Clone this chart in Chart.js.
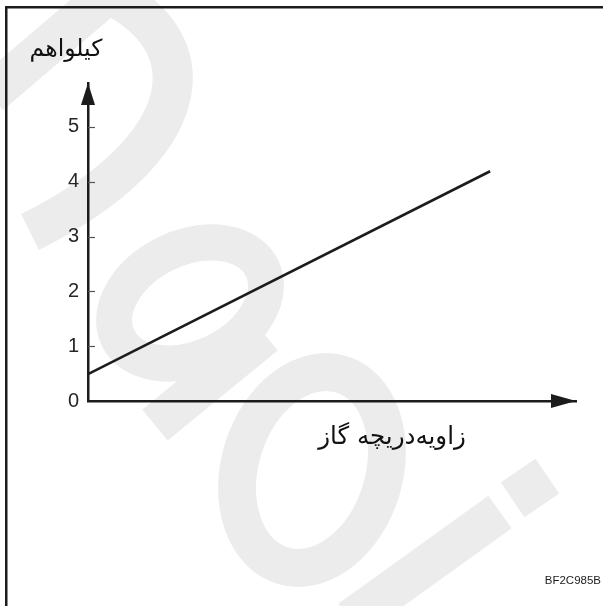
<!DOCTYPE html>
<html>
<head>
<meta charset="utf-8">
<script src="https://cdn.jsdelivr.net/npm/chart.js@4.4.1/dist/chart.umd.min.js"></script>
<style>
  html, body { margin: 0; padding: 0; background: #fff; }
  #chart { display: block; }
</style>
</head>
<body>
<canvas id="chart" width="603" height="606"></canvas>
<script>
// values (x axis has no scale, 0..100 = full axis length)
const throttleAngle = [0, 82.4];
const kwh = [0.49, 4.19];
const yTickValues = [0, 1, 2, 3, 4, 5];

const yTitle = 'کیلواهم';
const xTitle = 'زاویه‌دریچه گاز';
const figCode = 'BF2C985B';

const ink = '#1c1c1c';

// white page + faint grey watermark behind everything
const backdrop = {
    id: 'backdrop',
    beforeDraw(chart) {
        const ctx = chart.ctx;
        ctx.save();
        ctx.fillStyle = '#fff';
        ctx.fillRect(0, 0, chart.width, chart.height);

        ctx.strokeStyle = '#ececec';
        ctx.fillStyle = '#ececec';
        ctx.lineWidth = 40;

        ctx.beginPath();
        ctx.moveTo(-10, 95);
        ctx.lineTo(115, -12);
        ctx.stroke();

        ctx.beginPath();
        ctx.moveTo(100, -10);
        ctx.bezierCurveTo(215, 40, 195, 150, 30, 232);
        ctx.stroke();

        ctx.lineWidth = 36;
        ctx.beginPath();
        ctx.ellipse(190, 303, 80, 55, -0.45, 0, Math.PI * 2);
        ctx.stroke();

        ctx.lineWidth = 40;
        ctx.beginPath();
        ctx.moveTo(155, 425);
        ctx.lineTo(265, 335);
        ctx.stroke();

        ctx.lineWidth = 38;
        ctx.beginPath();
        ctx.ellipse(312, 470, 72, 100, 0.3, 0, Math.PI * 2);
        ctx.stroke();

        ctx.lineWidth = 40;
        ctx.beginPath();
        ctx.moveTo(350, 620);
        ctx.lineTo(500, 512);
        ctx.stroke();

        ctx.translate(530, 488);
        ctx.rotate(-0.6);
        ctx.fillRect(-21, -21, 42, 42);
        ctx.restore();
    }
};

// frame, arrow heads, inward tick marks and the texts
const decorations = {
    id: 'decorations',
    afterDraw(chart) {
        const ctx = chart.ctx;
        const area = chart.chartArea;
        const yScale = chart.scales.y;
        ctx.save();

        // frame (only top and left edges are in the crop)
        ctx.strokeStyle = ink;
        ctx.lineWidth = 2.5;
        ctx.beginPath();
        ctx.moveTo(6.25, chart.height);
        ctx.lineTo(6.25, 7.25);
        ctx.lineTo(chart.width, 7.25);
        ctx.stroke();

        // small ticks pointing into the plot
        ctx.strokeStyle = '#555';
        ctx.lineWidth = 1.2;
        yTickValues.filter(v => v > 0).forEach(v => {
            const py = Math.round(yScale.getPixelForValue(v)) + 0.5;
            ctx.beginPath();
            ctx.moveTo(area.left, py);
            ctx.lineTo(area.left + 7, py);
            ctx.stroke();
        });

        // arrow heads
        ctx.fillStyle = ink;
        ctx.beginPath();
        ctx.moveTo(area.left, area.top);
        ctx.lineTo(area.left - 7, area.top + 22);
        ctx.lineTo(area.left + 7, area.top + 22);
        ctx.closePath();
        ctx.fill();

        ctx.beginPath();
        ctx.moveTo(area.right, area.bottom);
        ctx.lineTo(area.right - 25, area.bottom - 7);
        ctx.lineTo(area.right - 25, area.bottom + 7);
        ctx.closePath();
        ctx.fill();

        // titles
        ctx.fillStyle = '#111';
        ctx.textAlign = 'center';
        ctx.textBaseline = 'middle';
        ctx.direction = 'rtl';
        ctx.font = '23.5px "DejaVu Sans"';
        ctx.fillText(yTitle, 66, 50);
        ctx.font = '24.5px "DejaVu Sans"';
        ctx.fillText(xTitle, 392, 438);

        ctx.direction = 'ltr';
        ctx.textAlign = 'right';
        ctx.fillStyle = '#222';
        ctx.font = '11.5px "Liberation Sans"';
        ctx.fillText(figCode, 601, 581);

        ctx.restore();
    }
};

new Chart(document.getElementById('chart'), {
    type: 'line',
    data: {
        datasets: [{
            data: throttleAngle.map((x, i) => ({ x: x, y: kwh[i] })),
            borderColor: ink,
            borderWidth: 2.6,
            pointRadius: 0,
            tension: 0
        }]
    },
    options: {
        responsive: false,
        animation: false,
        layout: { padding: { left: 8, top: 83, right: 27, bottom: 205 } },
        plugins: {
            legend: { display: false },
            tooltip: { enabled: false }
        },
        scales: {
            x: {
                type: 'linear',
                min: 0,
                max: 100,
                grid: { drawOnChartArea: false, drawTicks: false },
                border: { display: true, color: ink, width: 2.5 },
                ticks: { display: false },
                afterFit(s) { s.height = 0; }
            },
            y: {
                type: 'linear',
                min: 0,
                max: 5.8,
                grid: { drawOnChartArea: false, drawTicks: false },
                border: { display: true, color: ink, width: 2.5 },
                ticks: {
                    color: '#262626',
                    padding: 9,
                    font: { family: 'Liberation Sans', size: 20 }
                },
                afterBuildTicks(s) { s.ticks = yTickValues.map(v => ({ value: v })); },
                afterFit(s) { s.width = 80; }
            }
        }
    },
    plugins: [backdrop, decorations]
});
</script>
</body>
</html>
